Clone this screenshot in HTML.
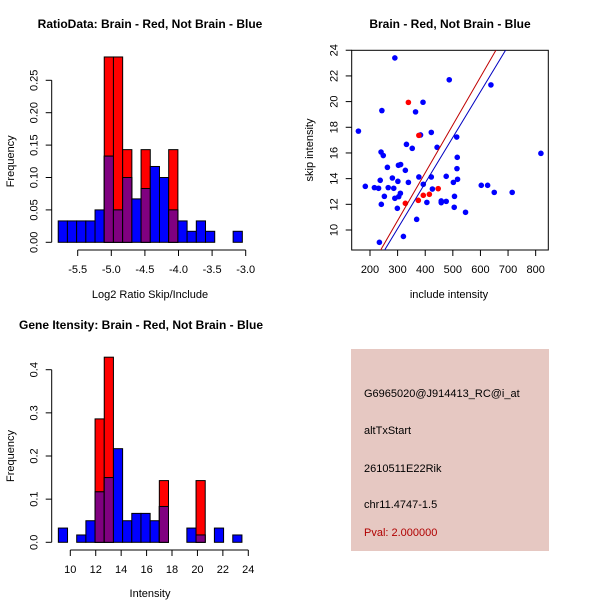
<!DOCTYPE html>
<html><head><meta charset="utf-8"><style>
body{margin:0;background:#fff}
svg{display:block;font-family:"Liberation Sans",sans-serif}
</style></head><body>
<svg id="c" width="600" height="600" xmlns="http://www.w3.org/2000/svg">
<rect width="600" height="600" fill="#fff"/>
<g id="p1"></g>
<g id="p2"></g>
<g id="p3"></g>
<g id="p4">
<rect x="351" y="349" width="198" height="202" fill="#e6c8c2"/>
<text x="364" y="397" font-size="11">G6965020@J914413_RC@i_at</text>
<text x="364" y="434" font-size="11">altTxStart</text>
<text x="364" y="472" font-size="11">2610511E22Rik</text>
<text x="364" y="508" font-size="11">chr11.4747-1.5</text>
<text x="364" y="536" font-size="11" fill="#b00000">Pval: 2.000000</text>
</g>
</svg>
<script>
// ---- Histogram 1 data (Log2 ratio) ----
const h1Start = -5.79, h1Width = 0.137;
const h1Blue = [0.033,0.033,0.033,0.033,0.05,0.133,0.05,0.1,0.067,0.083,0.117,0.1,0.05,0.033,0.017,0.033,0.017,0,0,0.017];
const h1Red  = [0,0,0,0,0,0.286,0.286,0.143,0,0.143,0,0,0.143,0,0,0,0,0,0,0];
const h1XTicks = [-5.5,-5.0,-4.5,-4.0,-3.5,-3.0];
const h1XLabels = ["-5.5","-5.0","-4.5","-4.0","-3.5","-3.0"];
const h1YTicks = [0,0.05,0.10,0.15,0.20,0.25];
const h1YLabels = ["0.00","0.05","0.10","0.15","0.20","0.25"];
// ---- Scatter data ----
const blueX = [290,487,638,392,243,365,158,422,383,514,332,443,353,240,248,516,263,303,311,328,819,515,377,422,476,281,517,237,301,339,393,502,183,216,231,266,286,603,626,426,310,252,506,650,715,304,290,476,458,406,458,241,505,299,546,369,234,321];
const blueY = [23.4,21.7,21.3,19.95,19.3,19.2,17.7,17.6,17.4,17.24,16.67,16.44,16.36,16.07,15.8,15.66,14.88,15.04,15.1,14.65,15.97,14.78,14.13,14.13,14.18,14.05,13.95,13.87,13.79,13.71,13.56,13.71,13.4,13.3,13.25,13.3,13.25,13.48,13.48,13.19,12.86,12.62,12.62,12.93,12.93,12.6,12.47,12.23,12.26,12.15,12.13,12.0,11.77,11.69,11.38,10.83,9.04,9.5];
const redX = [339,377,447,328,375,393,415];
const redY = [19.94,17.37,13.22,12.08,12.31,12.7,12.78];
const redFit = [-0.455,0.03728];   // intercept, slope
const blueFit = [-0.55,0.03553];
const scXTicks = [200,300,400,500,600,700,800];
const scYTicks = [10,12,14,16,18,20,22,24];
// ---- Histogram 3 data (Intensity) ----
const h3Start = 9.06, h3Width = 0.722;
const h3Blue = [0.033,0,0.017,0.05,0.117,0.15,0.217,0.05,0.067,0.067,0.05,0.083,0,0,0.033,0.017,0,0.033,0,0.017];
const h3Red  = [0,0,0,0,0.286,0.429,0,0,0,0,0,0.143,0,0,0,0.143,0,0,0,0];
const h3XTicks = [10,12,14,16,18,20,22,24];
const h3YTicks = [0,0.1,0.2,0.3,0.4];
const h3YLabels = ["0.0","0.1","0.2","0.3","0.4"];

const NS="http://www.w3.org/2000/svg";
function mk(parent,tag,attrs){const e=document.createElementNS(NS,tag);for(const k in attrs)e.setAttribute(k,attrs[k]);parent.appendChild(e);return e;}
function txt(parent,x,y,s,opt){const t=mk(parent,'text',Object.assign({x:x,y:y,'font-size':11,'text-anchor':'middle'},opt||{}));t.textContent=s;return t;}

function histogram(g,start,w,blue,red,sx,sy,xTicks,xLabels,yTicks,yLabels,axisX,axisY,title,titleX,titleY,xlab,xlabY){
  for(let i=0;i<blue.length;i++){
    const x0=sx(start+i*w), x1=sx(start+(i+1)*w);
    const b=blue[i], r=red[i];
    if(r>0){const e=mk(g,'rect',{x:x0,y:sy(r),width:x1-x0,height:sy(0)-sy(r),fill:'#ff0000',stroke:'#000','stroke-width':1});
      }
    if(b>0){const e=mk(g,'rect',{x:x0,y:sy(b),width:x1-x0,height:sy(0)-sy(b),fill:'#0000ff',stroke:'#000','stroke-width':1});
      }
    const m=Math.min(r,b);
    if(m>0){const e=mk(g,'rect',{x:x0,y:sy(m),width:x1-x0,height:sy(0)-sy(m),fill:'#800080',stroke:'#000','stroke-width':1});
      }
  }
  const xa=mk(g,'g',{});
  mk(xa,'line',{x1:sx(xTicks[0]),x2:sx(xTicks[xTicks.length-1]),y1:axisY,y2:axisY,stroke:'#000'});
  xTicks.forEach((v,i)=>{mk(xa,'line',{x1:sx(v),x2:sx(v),y1:axisY,y2:axisY+6,stroke:'#000'});
    const t=txt(xa,sx(v),axisY+23,xLabels[i]);});
  const ya=mk(g,'g',{});
  mk(ya,'line',{x1:axisX,x2:axisX,y1:sy(yTicks[0]),y2:sy(yTicks[yTicks.length-1]),stroke:'#000'});
  yTicks.forEach((v,i)=>{mk(ya,'line',{x1:axisX-6,x2:axisX,y1:sy(v),y2:sy(v),stroke:'#000'});
    const t=txt(ya,axisX-14,sy(v)+4,yLabels[i],{transform:`rotate(-90 ${axisX-18} ${sy(v)})`});t.setAttribute('x',axisX-18);t.setAttribute('y',sy(v)+4);
    });
  const tt=txt(g,titleX,titleY,title,{'font-weight':'bold','font-size':12});
  const xl=txt(g,150,xlabY,xlab);
  const cy=(sy(yTicks[0])+sy(yTicks[yTicks.length-1]))/2;
  const yl=txt(g,14,cy,'Frequency',{transform:`rotate(-90 14 ${cy})`});
}

// plot 1
const s1x=v=>77.7+(v+5.5)*67.2, s1y=v=>242.3-v*648;
histogram(document.getElementById('p1'),h1Start,h1Width,h1Blue,h1Red,s1x,s1y,h1XTicks,h1XLabels,h1YTicks,h1YLabels,51.7,250,
  'RatioData: Brain - Red, Not Brain - Blue',150,28,'Log2 Ratio Skip/Include',298);
// plot 3
const s3x=v=>70.3+(v-10)*12.714, s3y=v=>542.3-v*431.5;
histogram(document.getElementById('p3'),h3Start,h3Width,h3Blue,h3Red,s3x,s3y,h3XTicks,h3XTicks.map(String),h3YTicks,h3YLabels,51.7,550,
  'Gene Itensity: Brain - Red, Not Brain - Blue',141,329,'Intensity',597);

// plot 2 scatter
(function(){
  const g=document.getElementById('p2');
  const sx=v=>370+(v-200)*0.27611, sy=v=>230-(v-10)*12.84;
  const L=351.7,R=548.3,T=50.3,B=250;
  const clip=mk(g,'clipPath',{id:'sc'});mk(clip,'rect',{x:L,y:T,width:R-L,height:B-T});
  const box=mk(g,'rect',{x:L,y:T,width:R-L,height:B-T,fill:'none',stroke:'#000'});
  
  blueX.forEach((x,i)=>{const c=mk(g,'circle',{cx:sx(x),cy:sy(blueY[i]),r:2.8,fill:'#0000ff'});
    });
  redX.forEach((x,i)=>{const c=mk(g,'circle',{cx:sx(x),cy:sy(redY[i]),r:2.8,fill:'#ff0000'});
    });
  [[redFit,'#c00000','red-fit-line'],[blueFit,'#0000c0','blue-fit-line']].forEach(([f,col,nm])=>{
    const xa=100,xb=900;
    const l=mk(g,'line',{x1:sx(xa),y1:sy(f[0]+f[1]*xa),x2:sx(xb),y2:sy(f[0]+f[1]*xb),stroke:col,'stroke-width':1,'clip-path':'url(#sc)'});
    });
  const xa=mk(g,'g',{});
  scXTicks.forEach(v=>{mk(xa,'line',{x1:sx(v),x2:sx(v),y1:B,y2:B+6,stroke:'#000'});
    const t=txt(xa,sx(v),B+23,String(v));});
  const ya=mk(g,'g',{});
  scYTicks.forEach(v=>{mk(ya,'line',{x1:L-6,x2:L,y1:sy(v),y2:sy(v),stroke:'#000'});
    const t=txt(ya,L-18,sy(v)+4,String(v),{transform:`rotate(-90 ${L-18} ${sy(v)})`});
    });
  const tt=txt(g,450,28,'Brain - Red, Not Brain - Blue',{'font-weight':'bold','font-size':12});
  const xl=txt(g,449,298,'include intensity');
  const yl=txt(g,313,150,'skip intensity',{transform:'rotate(-90 313 150)'});
})();
</script>
</body></html>
